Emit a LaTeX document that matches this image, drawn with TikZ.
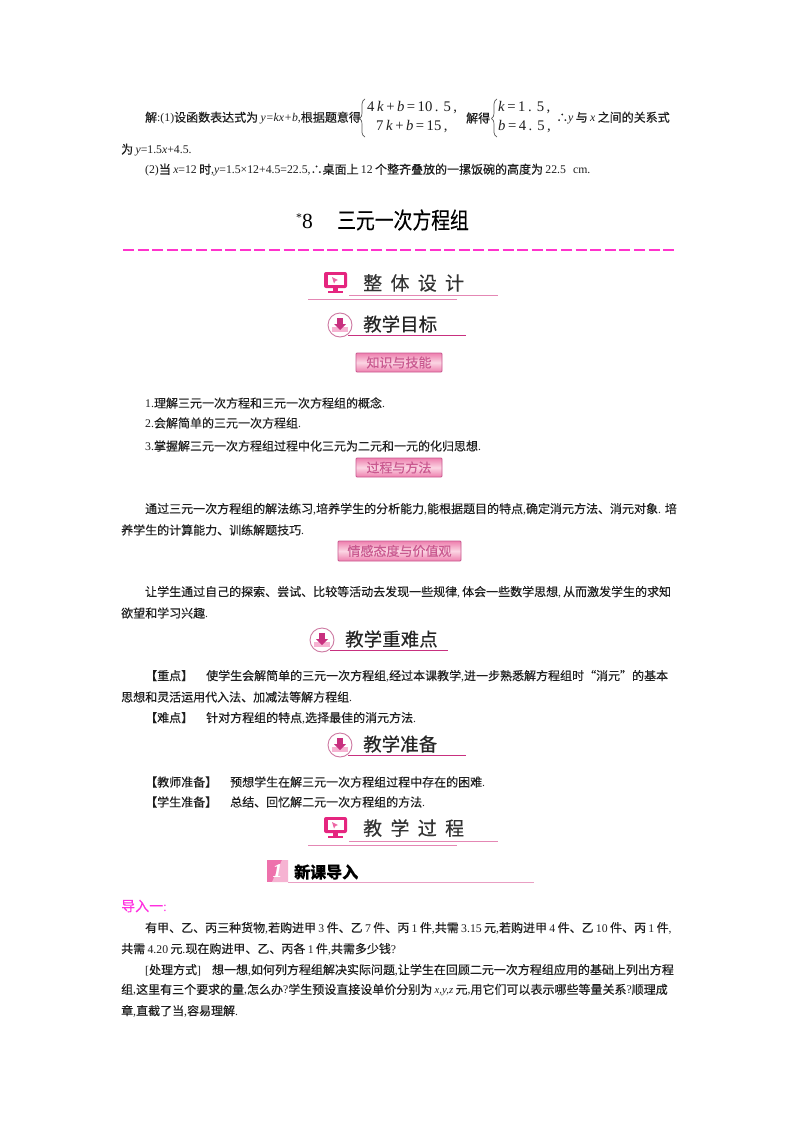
\documentclass[tikz,border=0pt]{standalone}
\usepackage{fontspec}
\usepackage{graphicx}
\setmainfont[Scale=0.98,WordSpace=0.8]{Liberation Serif}
\newfontfamily\cjk[RawFeature={embolden=0.25}]{Noto Sans CJK SC}
\XeTeXinterchartokenstate=1
\newXeTeXintercharclass\cjkclass
\newcount\cjkcnt
\cjkcnt="4E00
\loop\ifnum\cjkcnt<"A000 \XeTeXcharclass\cjkcnt=\cjkclass \advance\cjkcnt by 1 \repeat
\XeTeXcharclass"3001=\cjkclass
\XeTeXcharclass"3010=\cjkclass
\XeTeXcharclass"3011=\cjkclass
\XeTeXcharclass"201C=\cjkclass
\XeTeXcharclass"201D=\cjkclass
\XeTeXcharclass"2234=\cjkclass
\XeTeXinterchartoks 0 \cjkclass={\cjk}
\XeTeXinterchartoks 4095 \cjkclass={\cjk}
\XeTeXinterchartoks \cjkclass 0={\normalfont}
\XeTeXinterchartoks \cjkclass 4095={\normalfont}
\definecolor{tx}{HTML}{1E1E1E}
\definecolor{mg}{HTML}{E5257F}
\definecolor{ln}{HTML}{E487B4}
\definecolor{ld}{HTML}{C8307F}
\definecolor{bt}{HTML}{C9588F}
\definecolor{E1}{HTML}{EE7FAE}
\definecolor{E2}{HTML}{FBD5E3}
\definecolor{dsh}{HTML}{FF33CC}
\definecolor{intro}{HTML}{FF30E0}
\tikzset{
 x=1pt,y=-1pt,
 tl/.style={anchor=west,inner sep=0pt,text=tx,font=\fontsize{12}{12}\selectfont},
 eq/.style={anchor=west,inner sep=0pt,text=tx,font=\fontsize{15}{15}\selectfont},
 hd/.style={anchor=west,inner sep=0pt,text=black!85,font=\fontsize{18.5}{18.5}\selectfont},
 wide/.style={anchor=west,inner sep=0pt,text=black!80,font=\fontsize{19}{19}\selectfont},
 lbox/.style={draw=bt,line width=.8pt,rounded corners=1pt,top color=E1,bottom color=E1,middle color=E2,
   text=bt,inner sep=0pt,font=\fontsize{13}{13}\selectfont},
 thin pink/.style={draw=ln,line width=1.2pt},
 dark pink/.style={draw=ld,line width=1.3pt},
 brc/.style={draw=black!65,line width=.7pt},
}
\newcommand{\I}[1]{\textit{#1}}
\newcommand{\sep}{\hspace{2.5pt}}
\newcommand{\tl}[3]{\node[tl] at (#1,#2) {#3};}
\newcommand{\monitor}[2]{%
 \begin{scope}[shift={(#1,#2)}]
  \fill[mg,rounded corners=2pt] (0,0) rectangle (23,16);
  \fill[white] (3.5,3) rectangle (19.5,12.5);
  \fill[mg!70] (8,5) -- (14,8) -- (11.5,9) -- (10,11.5) -- cycle;
  \fill[mg] (9,16) rectangle (14,18.5);
  \fill[mg] (4,18.5) rectangle (19,21);
 \end{scope}}
\newcommand{\arrowicon}[2]{%
 \begin{scope}[shift={(#1,#2)}]
  \draw[draw=ln!90!black,fill=white,line width=.9pt] (0,0) circle (12);
  \fill[mg!35] (-8,2) rectangle (8,7);
  \fill[ld] (-2.8,-7) rectangle (2.8,-1) (-6,-1) -- (6,-1) -- (0,5) -- cycle;
 \end{scope}}
\begin{document}
\begin{tikzpicture}
\useasboundingbox (0,0) rectangle (800,1132);
\fill[white] (0,0) rectangle (800,1132);
% first lines
\tl{145}{118}{解:(1)设函数表达式为 \I{y=kx+b},根据题意得}
\draw[brc] (365,99) .. controls (361,101) and (362,106) .. (362,112) .. controls (362,116) and (361,118) .. (359.5,118.5) .. controls (361,119) and (362,121) .. (362,125) .. controls (362,131) and (361,135) .. (365,137);
\node[eq] at (367,108) {4\sep\I{k}\sep+\sep\I{b}\sep=\sep10\sep.\sep\sep5\sep,};
\node[eq] at (376,127) {7\sep\I{k}\sep+\sep\I{b}\sep=\sep15\sep,};
\tl{466}{118}{解得}
\draw[brc] (497,99) .. controls (493,101) and (494,106) .. (494,112) .. controls (494,116) and (493,118) .. (491.5,118.5) .. controls (493,119) and (494,121) .. (494,125) .. controls (494,131) and (493,135) .. (497,137);
\node[eq] at (498,108) {\I{k}\sep=\sep1\sep.\sep\sep5\sep,};
\node[eq] at (498,127) {\I{b}\sep=\sep4\sep.\sep\sep5\sep,};
\tl{556}{118}{∴\I{y} 与 \I{x} 之间的关系式}
\tl{121}{150}{为 \I{y}=1.5\I{x}+4.5.}
\tl{145}{170}{(2)当 \I{x}=12 时,\I{y}=1.5×12+4.5=22.5,∴桌面上 12 个整齐叠放的一摞饭碗的高度为 22.5\ \ \ cm.}
% title
\node[anchor=west,inner sep=0pt,text=black,font=\fontsize{22}{22}\selectfont] at (296,221) {\raisebox{7pt}{\fontsize{12}{12}\selectfont *}8};
\node[anchor=west,inner sep=0pt,text=black,font=\fontsize{18.8}{19}\selectfont] at (337,220) {\scalebox{1}[1.22]{三元一次方程组}};
\draw[dsh,line width=1.4pt,dash pattern=on 11pt off 3.6pt] (123,250) -- (677,250);
% section 1
\monitor{324}{272}
\node[wide] at (363,283) {整\hspace{8.3pt}体\hspace{8.3pt}设\hspace{8.3pt}计};
\draw[thin pink] (349,295.5) -- (498,295.5);
\draw[thin pink] (308,299.5) -- (457,299.5);
\arrowicon{340}{325}
\node[hd] at (363,324) {教学目标};
\draw[dark pink] (348,335.5) -- (466,335.5);
\node[lbox,minimum width=86pt,minimum height=19pt] at (399,362.5) {知识与技能};
\tl{145}{403}{1.理解三元一次方程和三元一次方程组的概念.}
\tl{145}{423}{2.会解简单的三元一次方程组.}
\tl{145}{446}{3.掌握解三元一次方程组过程中化三元为二元和一元的化归思想.}
\node[lbox,minimum width=86pt,minimum height=19pt] at (399,467.5) {过程与方法};
\tl{145}{509}{通过三元一次方程组的解法练习,培养学生的分析能力,能根据题目的特点,确定消元方法、消元对象.\hspace{4pt}培}
\tl{121}{530}{养学生的计算能力、训练解题技巧.}
\node[lbox,minimum width=123pt,minimum height=20pt] at (399.5,551) {情感态度与价值观};
\tl{145}{592}{让学生通过自己的探索、尝试、比较等活动去发现一些规律,\hspace{2pt}体会一些数学思想,\hspace{2pt}从而激发学生的求知}
\tl{121}{613}{欲望和学习兴趣.}
\arrowicon{322}{640}
\node[hd] at (345,639) {教学重难点};
\draw[dark pink] (330,650.5) -- (448,650.5);
\tl{121}{676}{\hspace{24pt}【重点】\hspace{13pt}使学生会解简单的三元一次方程组,经过本课教学,进一步熟悉解方程组时“消元”的基本}
\tl{121}{697}{思想和灵活运用代入法、加减法等解方程组.}
\tl{121}{718}{\hspace{24pt}【难点】\hspace{13pt}针对方程组的特点,选择最佳的消元方法.}
\arrowicon{340}{745}
\node[hd] at (363,744) {教学准备};
\draw[dark pink] (348,755.5) -- (466,755.5);
\tl{121}{782}{\hspace{24pt}【教师准备】\hspace{13pt}预想学生在解三元一次方程组过程中存在的困难.}
\tl{121}{802}{\hspace{24pt}【学生准备】\hspace{13pt}总结、回忆解二元一次方程组的方法.}
\monitor{324}{817}
\node[wide] at (363,828) {教\hspace{8.3pt}学\hspace{8.3pt}过\hspace{8.3pt}程};
\draw[thin pink] (349,841.5) -- (498,841.5);
\draw[thin pink] (308,845.5) -- (457,845.5);
% badge
\fill[mg!65] (267,860) rectangle (288,882);
\fill[mg!35] (288,860) -- (288,882) -- (272,882) -- (282,860) -- cycle;
\node[inner sep=0pt,text=white,font=\fontsize{20}{20}\selectfont\bfseries\itshape] at (277.5,871) {1};
\node[anchor=west,inner sep=0pt,text=black,font=\fontsize{16}{16}\selectfont\bfseries] at (294,872) {新课导入};
\draw[draw=ln!80,line width=1.3pt] (288,882.5) -- (534,882.5);
\node[tl,text=intro,font=\fontsize{14}{14}\selectfont] at (121,906) {导入一:};
\tl{145}{928}{有甲、乙、丙三种货物,若购进甲 3 件、乙 7 件、丙 1 件,共需 3.15 元,若购进甲 4 件、乙 10 件、丙 1 件,}
\tl{121}{949}{共需 4.20 元.现在购进甲、乙、丙各 1 件,共需多少钱?}
\tl{145}{970}{[处理方式]\hspace{11pt}想一想,如何列方程组解决实际问题,让学生在回顾二元一次方程组应用的基础上列出方程}
\tl{121}{990}{组,这里有三个要求的量,怎么办?学生预设直接设单价分别为 {\fontsize{11}{11}\selectfont\I{x,y,z}} 元,用它们可以表示哪些等量关系?顺理成}
\tl{121}{1011}{章,直截了当,容易理解.}
\end{tikzpicture}
\end{document}
